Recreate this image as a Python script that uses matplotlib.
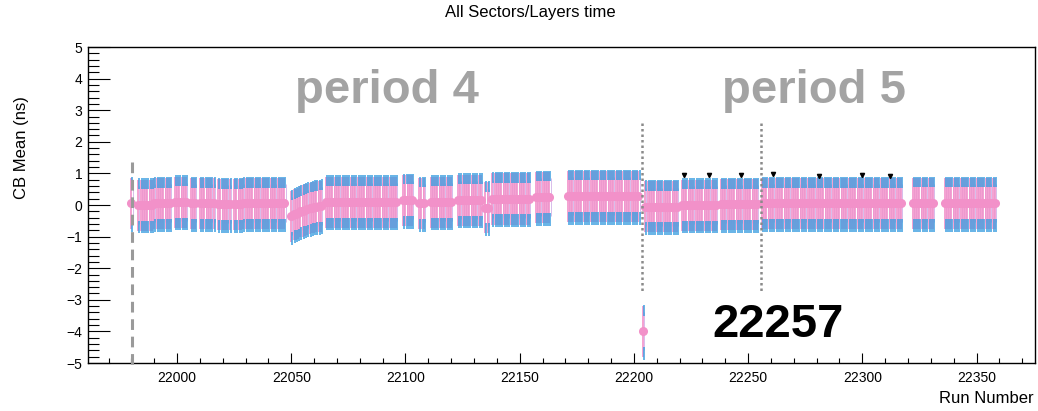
import matplotlib
matplotlib.use("Agg")
import matplotlib.pyplot as plt
from matplotlib.ticker import MultipleLocator
import numpy as np

plt.rcParams['font.family'] = ['Liberation Sans', 'DejaVu Sans']

# ---------------- data ----------------
group_start = [21980, 21983, 21987, 21990, 21999, 22006, 22010, 22018, 22025, 22029,
               22050, 22065, 22099, 22106, 22111, 22123, 22135, 22138, 22145, 22150,
               22157, 22171, 22204, 22205, 22221, 22238, 22256, 22322, 22336, 22355]
group_end = [21980, 21986, 21989, 21997, 22004, 22008, 22016, 22023, 22028, 22047,
             22063, 22096, 22103, 22108, 22120, 22133, 22136, 22144, 22149, 22154,
             22163, 22202, 22204, 22219, 22236, 22254, 22317, 22331, 22354, 22358]
group_mean = [0.05, 0.0, 0.0, 0.05, 0.1, 0.05, 0.05, 0.02, 0.02, 0.05,
              None, 0.1, 0.15, 0.06, 0.1, 0.16, -0.08, 0.2, 0.2, 0.2,
              0.25, 0.28, -4.0, -0.05, 0.0, 0.02, 0.05, 0.06, 0.06, 0.06]
# the ramp after run 22050 (group index 10)
ramp_means = [-0.35, -0.3, -0.28, -0.25, -0.2, -0.18, -0.15, -0.12, -0.1, -0.08,
              -0.06, -0.05, -0.04, -0.03]
err_up = 0.8
err_down = 0.82
blue_in = 0.5
blue_out_up = 0.84
blue_out_down = 0.9

black_flag_runs = [22222, 22233, 22247, 22261, 22281, 22300, 22312]
black_flag_vals = [0.95, 0.95, 0.95, 0.97, 0.93, 0.95, 0.92]

dashed_run = 21980.2
dotted_runs = [22203.7, 22255.7]

# ---------------- build per-run arrays ----------------
runs, means = [], []
for i, (s, e) in enumerate(zip(group_start, group_end)):
    rr = list(range(s, e + 1))
    if group_mean[i] is None:
        mm = ramp_means
    else:
        mm = [group_mean[i]] * len(rr)
    runs += rr
    means += mm
runs = np.array(runs, dtype=float)
means = np.array(means)

# ---------------- figure ----------------
W, H = 1038, 411
fig = plt.figure(figsize=(W / 100, H / 100), dpi=100)
L, R, T, B = 88, 1035, 47, 363
ax = fig.add_axes([L / W, 1 - B / H, (R - L) / W, (B - T) / H])
ax.set_xlim(21961, 22375.6)
ax.set_ylim(-5, 5)

pink = '#f291c9'
lav = '#c7a3e3'
blue = '#3d9fe0'

# lavender thin bars between runs (other sector/layer error bars)
ax.vlines(runs + 0.5, means - 0.6, means + 0.6, color=lav, lw=0.5, zorder=1)
# pink error bars
ax.vlines(runs, means - err_down, means + err_up, color=pink, lw=1.2, zorder=2)
# blue marker clusters at the ends, between the pink bars
ax.vlines(runs + 0.45, means + blue_in, means + blue_out_up, color=blue, lw=1.1, zorder=3)
ax.vlines(runs + 0.45, means - blue_out_down, means - blue_in, color=blue, lw=1.1, zorder=3)
# pink markers at mean
ax.plot(runs, means, 'o', color=pink, ms=5.5, mec=pink, zorder=4, lw=0)
# small black markers
ax.plot(black_flag_runs, black_flag_vals, 'v', color='black', ms=3, zorder=5)

# reference lines
ax.plot([dashed_run, dashed_run], [1.35, -5.15], color='#9a9a9a', lw=2.2,
        dashes=(3.5, 2.2), zorder=6, clip_on=False)
for xr in dotted_runs:
    ax.plot([xr, xr], [2.6, -2.75], color='#8a8a8a', lw=1.8,
            dashes=(1, 1.2), zorder=6)

# texts
ax.text(22051.7, 3.22, 'period 4', color='#a3a3a3', fontsize=34,
        fontweight='bold', ha='left', va='baseline')
ax.text(22238.6, 3.22, 'period 5', color='#a3a3a3', fontsize=34,
        fontweight='bold', ha='left', va='baseline')
ax.text(22234.2, -4.18, '22257', color='black', fontsize=34,
        fontweight='bold', ha='left', va='baseline')

# ticks
ax.xaxis.set_major_locator(MultipleLocator(50))
ax.xaxis.set_minor_locator(MultipleLocator(10))
ax.yaxis.set_major_locator(MultipleLocator(1))
ax.yaxis.set_minor_locator(MultipleLocator(0.2))
ax.tick_params(axis='x', which='major', direction='in', length=7.2, width=0.8,
               labelsize=10, pad=6, top=False)
ax.tick_params(axis='x', which='minor', direction='in', length=3.6, width=0.8, top=False)
ax.tick_params(axis='y', which='major', direction='in', length=15.8, width=0.8,
               labelsize=10, pad=4, right=False)
ax.tick_params(axis='y', which='minor', direction='in', length=7.9, width=0.8, right=False)
ax.xaxis.set_major_formatter(matplotlib.ticker.FuncFormatter(lambda v, p: f'{int(v)}'))
ax.yaxis.set_major_formatter(matplotlib.ticker.FuncFormatter(
    lambda v, p: f'{int(round(v))}'.replace('-', '\u2212')))
for sp in ax.spines.values():
    sp.set_linewidth(1.0)

fig.text(530 / W, 1 - 13 / H, 'All Sectors/Layers time', ha='center', va='center',
         fontsize=12)
fig.text(22 / W, 1 - 148 / H, 'CB Mean (ns)', ha='center', va='center',
         rotation=90, fontsize=12)
fig.text(1034 / W, 1 - 398 / H, 'Run Number', ha='right', va='center', fontsize=12)

fig.savefig('out.png', dpi=100)
